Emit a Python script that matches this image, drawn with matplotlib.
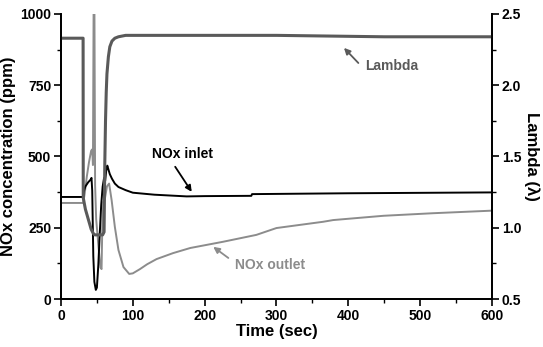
import numpy as np
import matplotlib
matplotlib.use('Agg')
import matplotlib.pyplot as plt
from matplotlib.ticker import MultipleLocator

plt.rcParams['font.family'] = ['Liberation Sans', 'DejaVu Sans']
plt.rcParams['font.weight'] = 'bold'

# NOx inlet (ppm)
inlet_t = [0, 31, 31.5, 34, 38, 41, 42.5, 43.5, 45, 46.5, 48.5, 50, 52, 54, 56, 58, 60,
           61.5, 63, 64.5, 66, 68, 71, 75, 80, 90, 100, 130, 175, 200, 265, 266, 400, 600]
inlet_v = [358, 358, 375, 395, 410, 418, 425, 380, 150, 60, 32, 40, 120, 230, 330, 394, 425,
           415, 450, 468, 455, 438, 422, 405, 393, 382, 373, 366, 360, 361, 362, 368, 371, 374]

# NOx outlet (ppm)
outlet_t = [0, 31, 33, 36, 39, 42, 43.5, 44.5, 45.5, 46.5, 47.5, 49, 52, 55, 56.5, 57.5, 59, 61,
            64, 67, 70.5, 75, 80, 87, 95, 100, 110, 120, 133, 156, 180, 226, 272, 300, 365, 379,
            449, 518, 600]
outlet_v = [337, 337, 370, 430, 480, 520, 525, 470, 1060, 1060, 400, 280, 190, 110, 105, 250, 340, 350,
            395, 405, 347, 253, 172, 112, 88, 90, 105, 122, 140, 161, 179, 201, 225, 249, 271, 277,
            292, 301, 310]

# Lambda
lam_t = [0, 30.8, 31, 34, 38, 42, 45, 47, 52, 58, 60, 61, 62, 63, 64, 66, 68, 71, 75, 80, 90,
         150, 300, 450, 600]
lam_v = [2.33, 2.33, 1.21, 1.13, 1.06, 0.99, 0.96, 0.95, 0.95, 0.95, 0.97, 1.45, 1.75, 1.95, 2.08,
         2.2, 2.27, 2.31, 2.33, 2.34, 2.35, 2.35, 2.35, 2.34, 2.34]

fig = plt.figure(figsize=(5.43, 3.47), dpi=100)
ax = fig.add_axes([0.1123, 0.1383, 0.7937, 0.8214])
ax2 = ax.twinx()

ax.plot(inlet_t, inlet_v, color='black', lw=1.4, zorder=3)
ax.plot(outlet_t, outlet_v, color='#8c8c8c', lw=1.4, zorder=2)
ax2.plot(lam_t, lam_v, color='#5a5a5a', lw=2.2)

ax.set_xlim(0, 600)
ax.set_ylim(0, 1000)
ax2.set_ylim(0.5, 2.5)

ax.xaxis.set_major_locator(MultipleLocator(100))
ax.xaxis.set_minor_locator(MultipleLocator(50))
ax.yaxis.set_major_locator(MultipleLocator(250))
ax.yaxis.set_minor_locator(MultipleLocator(125))
ax2.yaxis.set_major_locator(MultipleLocator(0.5))
ax2.yaxis.set_minor_locator(MultipleLocator(0.25))
ax2.set_yticks([0.5, 1.0, 1.5, 2.0, 2.5])
ax2.set_yticklabels(['0.5', '1.0', '1.5', '2.0', '2.5'])

for a in (ax, ax2):
    a.spines['top'].set_visible(False)
    for s in a.spines.values():
        s.set_linewidth(1.3)
    a.tick_params(which='major', direction='out', length=5, width=1.2, labelsize=10)
    a.tick_params(which='minor', direction='out', length=3, width=1.0)
ax.tick_params(axis='both', pad=2)
ax2.tick_params(axis='y', pad=2)

ax.set_xlabel('Time (sec)', fontsize=12, fontweight='bold', labelpad=1)
ax.set_ylabel('NOx concentration (ppm)', fontsize=12, fontweight='bold', labelpad=3)
ax2.set_ylabel('Lambda (\u03bb)', fontsize=12, fontweight='bold', rotation=270, labelpad=13)

# labels and arrows
ax.text(423, 818, 'Lambda', color='#5a5a5a', fontsize=10, fontweight='bold', va='center', ha='left')
ax.text(127, 509, 'NOx inlet', color='black', fontsize=10, fontweight='bold', va='center', ha='left')
ax.text(242, 119, 'NOx outlet', color='#8c8c8c', fontsize=10, fontweight='bold', va='center', ha='left')

arrow_kw = dict(arrowstyle='-|>', lw=1.3, mutation_scale=9, shrinkA=0, shrinkB=0)
ax.annotate('', xy=(394, 881), xytext=(414, 828), arrowprops=dict(color='#5a5a5a', **arrow_kw))
ax.annotate('', xy=(182, 376), xytext=(159, 464), arrowprops=dict(color='black', **arrow_kw))
ax.annotate('', xy=(212, 183), xytext=(233, 144), arrowprops=dict(color='#8c8c8c', **arrow_kw))

fig.savefig('out.png', dpi=100)
